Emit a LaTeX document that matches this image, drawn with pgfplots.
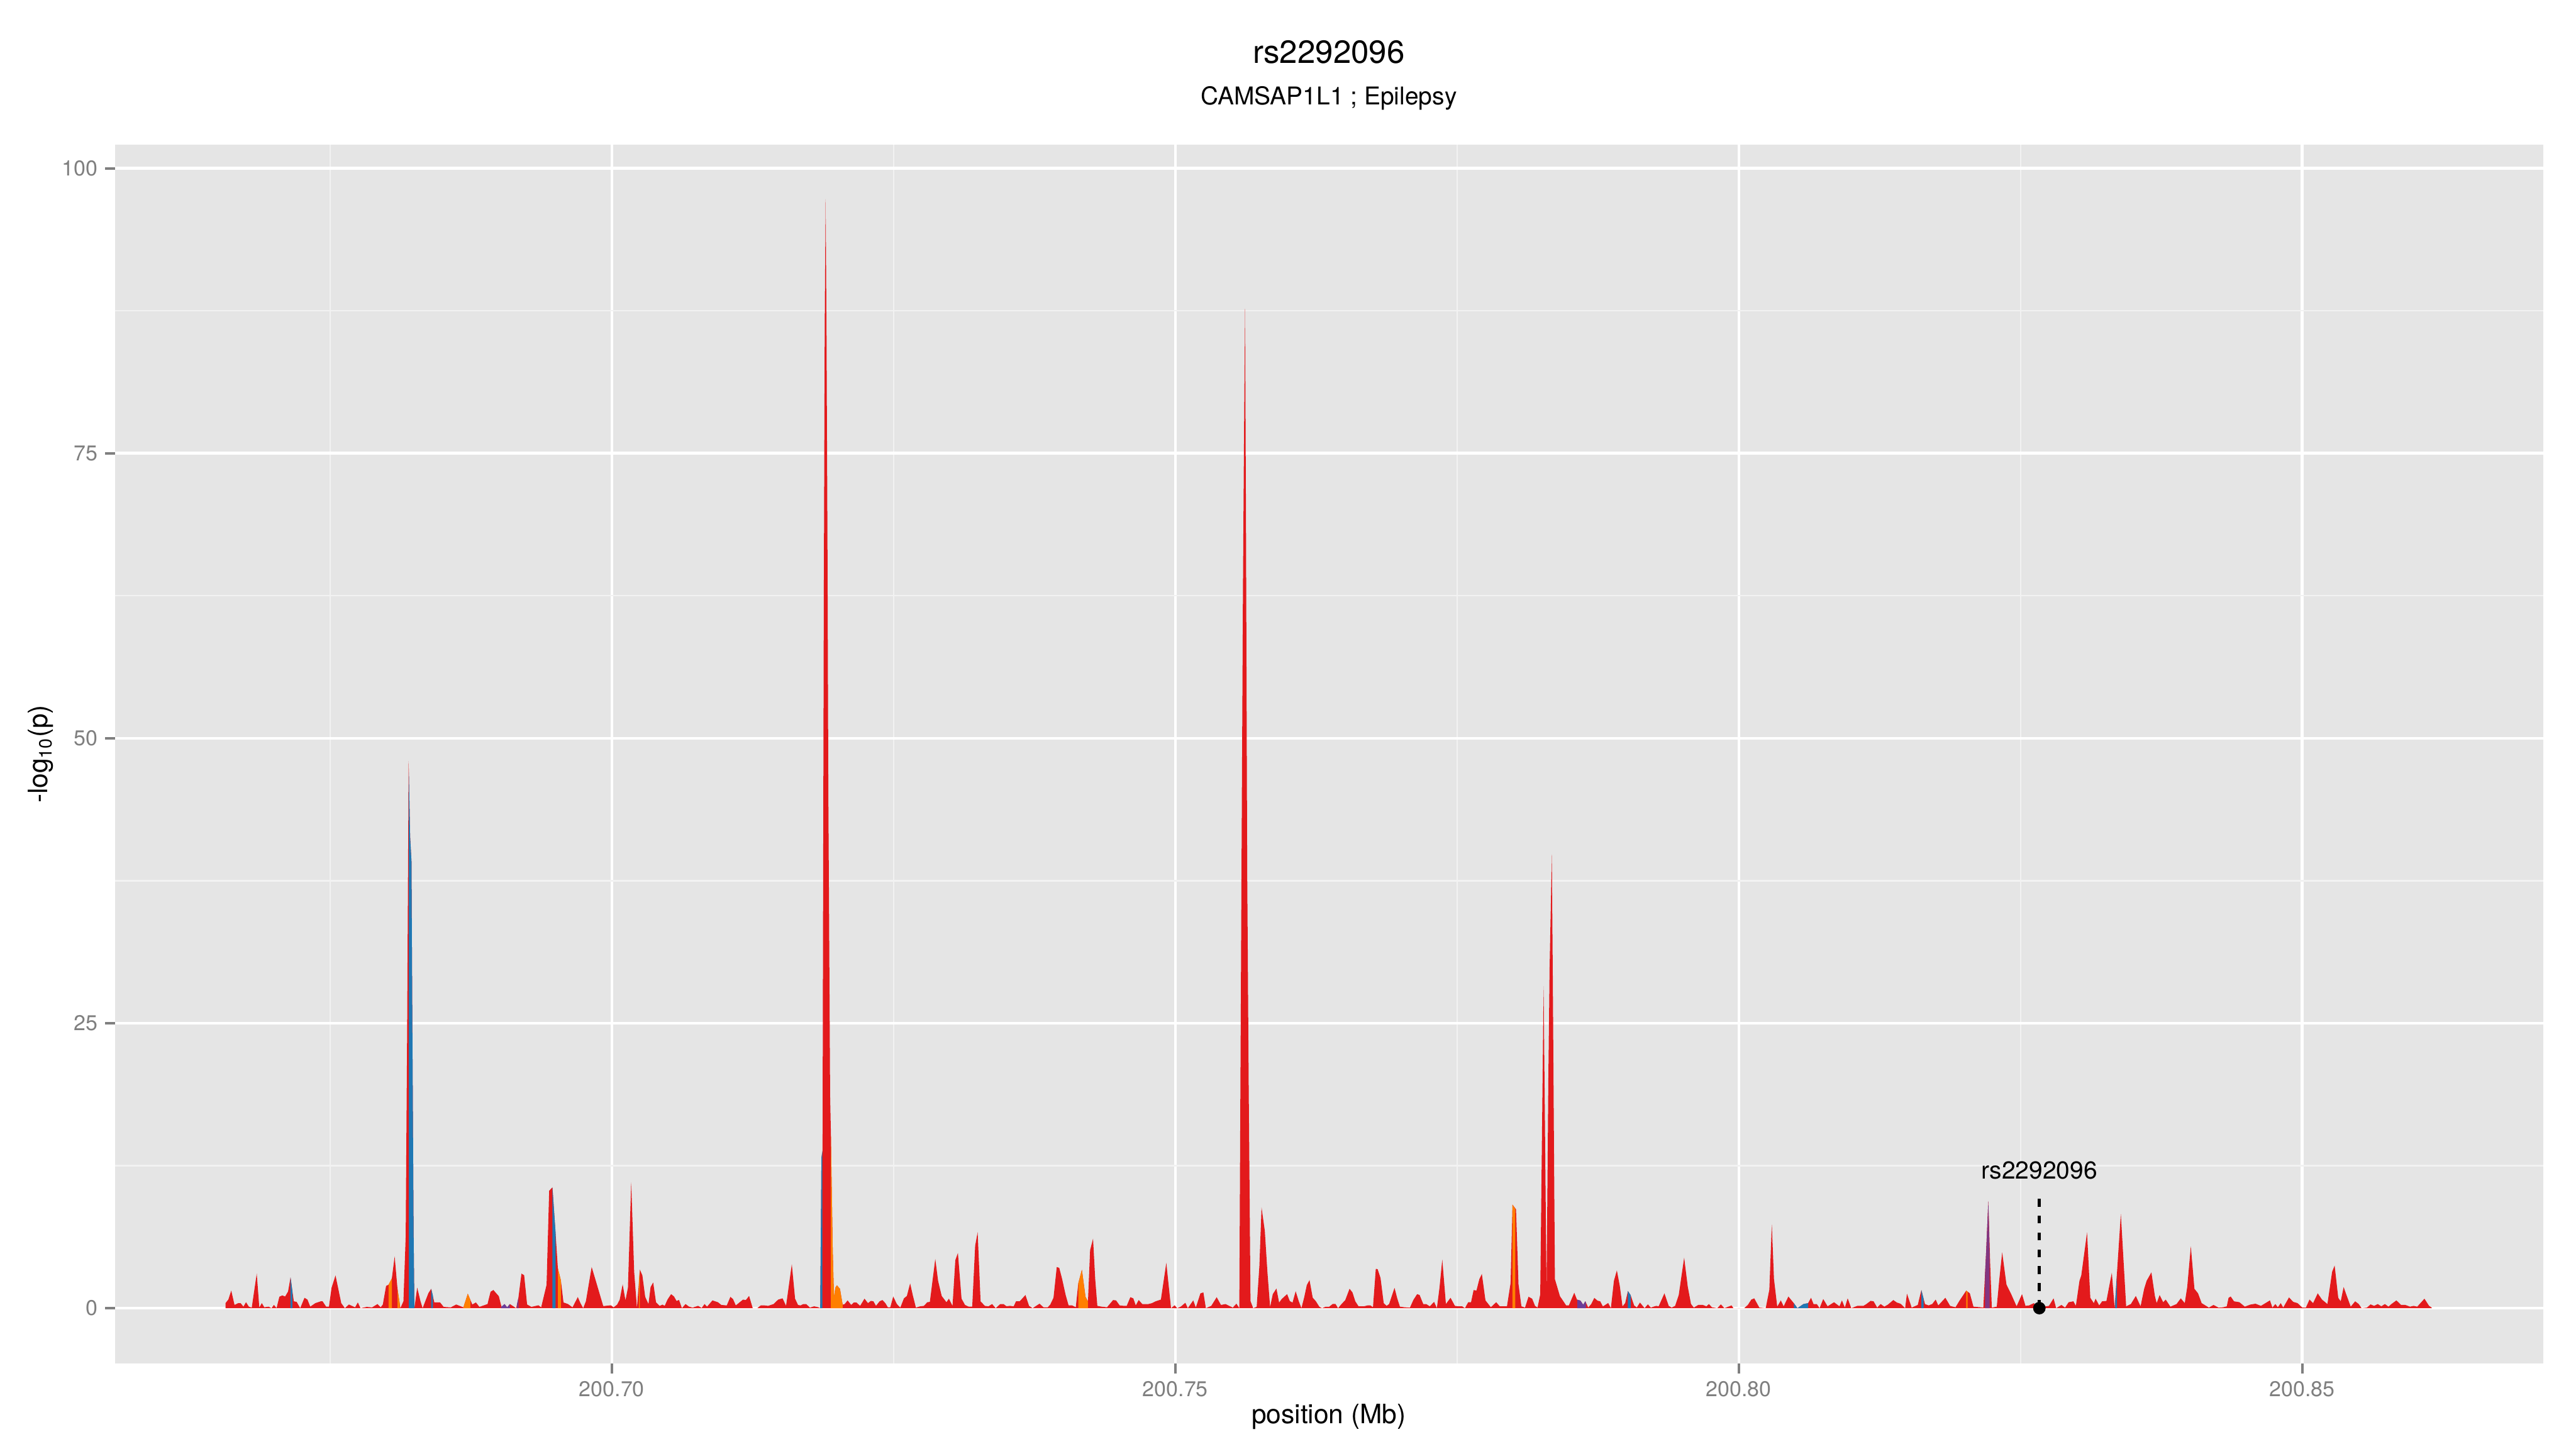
\documentclass[border=0pt]{standalone}
\usepackage{pgfplots}
\pgfplotsset{compat=1.18}
\usepackage{fontspec}
\setmainfont{TeX Gyre Heros}
\definecolor{lzred}{HTML}{E31A1C}
\definecolor{lzblue}{HTML}{1F78B4}
\definecolor{lzorange}{HTML}{FF7F00}
\definecolor{lzpurple}{HTML}{6A3D9A}
\definecolor{panelbg}{HTML}{E5E5E5}
\definecolor{gridminor}{HTML}{F2F2F2}
\definecolor{tickgray}{HTML}{7F7F7F}
\begin{document}
\begin{tikzpicture}
\path[use as bounding box] (0,0) rectangle (16in,9in);
\node[anchor=base, font=\fontsize{14.4}{16}\selectfont] at (8.2533in,8.6067in) {rs2292096};
\node[anchor=base, font=\fontsize{11}{13}\selectfont] at (8.2533in,8.35in) {CAMSAP1L1 ; Epilepsy};
\node[anchor=base, font=\fontsize{12}{14}\selectfont] at (8.2533in,0.16in) {position (Mb)};
\node[anchor=base, rotate=90, font=\fontsize{12}{14}\selectfont] at (0.2967in,4.3167in) {-log\textsubscript{10}(p)};
\begin{axis}[
  at={(0.71333in,0.53in)}, anchor=south west,
  scale only axis, width=15.0833in, height=7.5733in,
  xmin=200.6559, xmax=200.87138, ymin=-4.87, ymax=102.1,
  axis background/.style={fill=panelbg},
  axis line style={draw=none},
  tick pos=left, tick align=outside,
  major tick length=4.3pt, minor tick length=0pt,
  tick style={color=tickgray, line width=1.1pt},
  xtick={200.70,200.75,200.80,200.85}, xticklabels={200.70,200.75,200.80,200.85},
  ytick={0,25,50,75,100}, yticklabels={0,25,50,75,100},
  minor xtick={200.675,200.725,200.775,200.825},
  minor ytick={12.5,37.5,62.5,87.5},
  grid=both,
  major grid style={white, line width=1.3pt},
  minor grid style={gridminor, line width=0.65pt},
  ticklabel style={font=\fontsize{9.6}{11}\selectfont, color=tickgray},
]
\addplot[draw=none, fill=lzred] table {
x y
200.66572 0.44
200.66597 0.75
200.66623 1.54
200.66652 0.28
200.66684 0.44
200.66706 0.44
200.66731 0.13
200.66754 0.52
200.66779 0.13
200.66805 0.05
200.66849 3.03
200.66872 0.05
200.66894 0.44
200.66916 0.08
200.66955 0.13
200.66980 0
200.67002 0.28
200.67025 0
200.67050 1.0
200.67076 1.12
200.67101 1.02
200.67127 1.46
200.67149 2.70
200.67178 0.60
200.67203 0.55
200.67235 0
200.67273 0.91
200.67299 0.75
200.67324 0.13
200.67369 0.44
200.67417 0.60
200.67433 0.60
200.67465 0.13
200.67490 0.13
200.67513 1.78
200.67548 2.87
200.67599 0.44
200.67631 0
200.67667 0.32
200.67698 0.18
200.67722 0.07
200.67746 0.50
200.67770 0
200.67825 0.11
200.67873 0.07
200.67921 0.36
200.67949 0.07
200.67968 0.32
200.67997 1.95
200.68019 2.06
200.68048 2.60
200.68073 4.54
200.68098 1.69
200.68124 0
200.68151 0.61
200.68171 6.31
200.68184 24.8
200.68197 48.0
200.68210 41.4
200.68222 39.2
200.68230 24.8
200.68241 6.71
200.68248 0
200.68273 1.80
200.68302 0.61
200.68321 0
200.68373 1.33
200.68397 1.69
200.68425 0.50
200.68476 0.50
200.68508 0.11
200.68571 0.07
200.68619 0.32
200.68683 0.07
200.68722 1.26
200.68762 0.32
200.68794 0.50
200.68825 0.11
200.68897 0.36
200.68924 1.44
200.68949 1.59
200.68997 1.05
200.69024 0
200.69048 0.36
200.69071 0.07
200.69095 0.36
200.69151 0
200.69171 0.90
200.69198 3.03
200.69222 2.89
200.69248 0.32
200.69286 0.11
200.69349 0.25
200.69373 0.07
200.69421 2.05
200.69444 10.3
200.69473 10.6
200.69500 6.71
200.69521 3.50
200.69548 2.42
200.69571 0.50
200.69611 0.36
200.69651 0.07
200.69698 0.97
200.69722 0.43
200.69746 0
200.69770 0.61
200.69821 3.61
200.69857 2.42
200.69897 1.08
200.69924 0.18
200.69992 0.25
200.70016 0.07
200.70048 0.32
200.70070 0.75
200.70096 2.09
200.70121 0.68
200.70143 1.79
200.70172 11.04
200.70198 3.19
200.70223 0
200.70249 3.38
200.70271 2.87
200.70296 0.99
200.70325 0.36
200.70344 1.85
200.70367 2.25
200.70392 0.52
200.70424 0.20
200.70450 0.31
200.70469 0.20
200.70494 0.75
200.70526 1.23
200.70552 1.02
200.70574 0.63
200.70596 0.72
200.70622 0
200.70654 0.36
200.70685 0.13
200.70717 0.05
200.70765 0.20
200.70797 0.02
200.70823 0.36
200.70845 0.13
200.70893 0.68
200.70941 0.52
200.70972 0.28
200.71020 0.24
200.71052 0.99
200.71075 0.80
200.71100 0.24
200.71164 0.75
200.71189 0.71
200.71218 1.07
200.71250 0
200.71291 0
200.71323 0.25
200.71355 0.24
200.71387 0.20
200.71435 0.36
200.71476 0.75
200.71515 0.86
200.71546 0.20
200.71597 3.86
200.71626 0.83
200.71652 0.28
200.71674 0.24
200.71699 0.36
200.71725 0.36
200.71757 0.05
200.71795 0.16
200.71833 0.08
200.71849 0
200.71860 13.2
200.71870 13.8
200.71873 28.7
200.71881 62.5
200.71889 86.2
200.71897 97.3
200.71905 85.5
200.71913 68.0
200.71921 45.6
200.71937 18.6
200.71944 15.2
200.71960 5.05
200.71971 1.0
200.71984 1.8
200.71997 2.0
200.72024 1.7
200.72048 0.3
200.72066 0.36
200.72092 0.68
200.72124 0.28
200.72146 0.49
200.72171 0.49
200.72203 0.20
200.72242 0.83
200.72273 0.44
200.72299 0.64
200.72321 0.60
200.72344 0.20
200.72376 0.60
200.72401 0.71
200.72427 0.44
200.72449 0.08
200.72471 0.08
200.72497 1.02
200.72529 0.36
200.72560 0.05
200.72592 0.86
200.72618 1.07
200.72647 2.17
200.72672 1.07
200.72698 0.05
200.72736 0.16
200.72768 0.20
200.72800 0.52
200.72822 0.55
200.72870 4.32
200.72895 2.39
200.72927 1.07
200.72969 0.52
200.72991 0.83
200.73023 0.20
200.73048 4.21
200.73071 4.84
200.73103 0.83
200.73134 0.28
200.73166 0.13
200.73198 0.13
200.73224 5.48
200.73246 6.66
200.73272 0.60
200.73310 0.20
200.73342 0.16
200.73374 0.36
200.73406 0
200.73447 0.36
200.73476 0.36
200.73501 0.17
200.73533 0.20
200.73565 0.16
200.73587 0.60
200.73619 0.60
200.73670 1.15
200.73702 0.20
200.73734 0
200.73795 0.39
200.73830 0.08
200.73868 0.08
200.73890 0.31
200.73919 0.91
200.73948 3.61
200.73970 3.53
200.73995 2.58
200.74027 1.15
200.74053 0.24
200.74085 0.24
200.74117 0.08
200.74139 2.17
200.74171 3.36
200.74203 0.99
200.74225 0.60
200.74244 5.09
200.74270 6.09
200.74289 2.58
200.74308 0.20
200.74346 0.13
200.74394 0.08
200.74448 0.71
200.74474 0.68
200.74506 0.24
200.74544 0.20
200.74569 0.20
200.74601 0.96
200.74627 0.86
200.74649 0.24
200.74675 0.71
200.74707 0.36
200.74761 0.36
200.74793 0.44
200.74825 0.60
200.74872 0.75
200.74920 3.97
200.74962 0
200.74994 0.25
200.75016 0
200.75048 0.13
200.75089 0.47
200.75111 0
200.75159 0.68
200.75182 0.05
200.75223 1.30
200.75249 1.38
200.75271 0
200.75319 0.20
200.75367 0.96
200.75405 0.28
200.75446 0.36
200.75478 0.20
200.75510 0.05
200.75542 0.39
200.75568 0
200.75584 32.0
200.75600 62.8
200.75611 78.3
200.75619 87.7
200.75627 69.0
200.75638 38.2
200.75651 19.7
200.75667 0.62
200.75691 0
200.75722 0.12
200.75746 3.70
200.75765 8.84
200.75794 6.78
200.75817 3.2
200.75841 0.1
200.75865 1.23
200.75897 1.72
200.75921 0.49
200.75944 0.80
200.75992 1.23
200.76016 0.62
200.76040 0.49
200.76068 1.48
200.76095 0.62
200.76119 0
200.76143 0.92
200.76167 2.03
200.76191 2.46
200.76219 0.92
200.76246 0.62
200.76278 0.12
200.76302 0
200.76333 0.12
200.76365 0.12
200.76397 0.37
200.76421 0.37
200.76444 0
200.76476 0.37
200.76508 0.71
200.76546 1.70
200.76572 1.38
200.76597 0.60
200.76626 0.16
200.76674 0.16
200.76706 0.24
200.76731 0.24
200.76754 0.08
200.76779 3.45
200.76795 3.42
200.76821 2.64
200.76849 0.44
200.76875 0.20
200.76897 0.36
200.76945 1.78
200.76970 0.83
200.76993 0.13
200.77034 0.08
200.77082 0.05
200.77114 0.75
200.77146 1.23
200.77168 1.15
200.77200 0.36
200.77226 0.36
200.77258 0.16
200.77296 0.55
200.77321 0
200.77344 1.78
200.77369 4.27
200.77401 0.36
200.77442 0.91
200.77481 0.20
200.77513 0.16
200.77545 0.16
200.77570 0
200.77599 0.52
200.77624 0.52
200.77647 1.59
200.77672 1.54
200.77698 2.55
200.77720 3.00
200.77752 0.68
200.77800 0.08
200.77847 0.52
200.77879 0.16
200.77943 0.16
200.77975 2.20
200.77992 9.08
200.78023 8.67
200.78045 2.10
200.78071 0.16
200.78103 0.05
200.78134 1.0
200.78166 0.83
200.78192 0.20
200.78214 0.05
200.78238 1.20
200.78268 28.25
200.78294 1.50
200.78310 20.0
200.78321 29.8
200.78341 39.8
200.78352 25.5
200.78368 2.55
200.78413 1.05
200.78468 0.24
200.78492 0.24
200.78540 1.35
200.78564 0.75
200.78595 0.66
200.78619 0.30
200.78638 0.60
200.78664 0.06
200.78691 0.36
200.78718 0.90
200.78746 0.66
200.78770 0.60
200.78794 0.15
200.78841 0.45
200.78865 0
200.78892 2.40
200.78918 3.31
200.78944 1.95
200.78968 0.15
200.78992 0.45
200.79016 1.50
200.79040 1.14
200.79071 0.24
200.79095 0.06
200.79123 0.49
200.79164 0
200.79193 0.33
200.79219 0.05
200.79266 0.20
200.79289 0.16
200.79340 1.30
200.79378 0.20
200.79404 0.05
200.79435 0.20
200.79467 1.15
200.79515 4.43
200.79547 1.89
200.79576 0.36
200.79601 0.05
200.79640 0.28
200.79681 0.28
200.79713 0.16
200.79735 0.36
200.79761 0.08
200.79809 0
200.79841 0.33
200.79872 0
200.79936 0.24
200.79952 0
200.80048 0
200.80080 0.28
200.80111 0.75
200.80137 0.86
200.80182 0.05
200.80239 0
200.80271 1.62
200.80293 7.35
200.80312 2.56
200.80341 0.13
200.80373 0.68
200.80398 0.16
200.80440 1.02
200.80488 0.44
200.80520 0
200.80574 0.36
200.80615 0.44
200.80641 0.91
200.80663 0.36
200.80692 0.36
200.80717 0
200.80749 0.80
200.80788 0.16
200.80845 0.52
200.80893 0.16
200.80915 0.68
200.80941 0.05
200.80966 0.86
200.80998 0
200.81052 0.20
200.81106 0.20
200.81132 0.36
200.81170 0.64
200.81196 0.60
200.81228 0.05
200.81259 0.36
200.81291 0.13
200.81323 0.31
200.81371 0.71
200.81403 0.49
200.81435 0.39
200.81476 0
200.81492 1.27
200.81534 0.05
200.81588 0.28
200.81620 1.59
200.81652 0.36
200.81684 0.24
200.81716 0.36
200.81747 0.75
200.81770 0.24
200.81833 0.91
200.81875 0.20
200.81900 0.13
200.81923 0.08
200.81955 0.60
200.82018 1.54
200.82050 1.30
200.82082 0.13
200.82146 0.08
200.82170 0.05
200.82195 5.0
200.82214 9.39
200.82230 4.0
200.82245 0.05
200.82289 0.13
200.82312 2.56
200.82337 4.90
200.82375 2.07
200.82417 1.23
200.82465 0.16
200.82513 1.23
200.82544 0.20
200.82576 0.24
200.82618 0.44
200.82656 0
200.82704 0.13
200.82752 0.20
200.82793 0.86
200.82816 0
200.82863 0.28
200.82895 0.05
200.82927 0.52
200.82969 0.60
200.82991 0.20
200.83023 2.40
200.83039 2.87
200.83090 6.64
200.83119 0.91
200.83150 0.44
200.83166 0.83
200.83198 0.24
200.83224 0.60
200.83262 0.63
200.83310 3.11
200.83335 0
200.83390 8.26
200.83437 0.16
200.83479 0.36
200.83523 1.07
200.83565 0.16
200.83597 1.70
200.83619 2.40
200.83661 3.14
200.83692 1.07
200.83708 0.44
200.83734 1.15
200.83766 0.52
200.83788 0.75
200.83830 0.13
200.83884 0.36
200.83922 0.86
200.83957 0.44
200.83979 1.85
200.84011 5.42
200.84043 1.70
200.84075 1.30
200.84107 0.44
200.84171 0.05
200.84212 0.28
200.84257 0.05
200.84298 0.08
200.84330 0.16
200.84346 0.91
200.84365 1.02
200.84394 0.60
200.84442 0.52
200.84490 0.13
200.84538 0.31
200.84585 0.39
200.84633 0.20
200.84713 0.68
200.84735 0.05
200.84761 0.36
200.84783 0.08
200.84809 0.44
200.84831 0.05
200.84882 0.94
200.84920 0.55
200.84958 0.44
200.85000 0.05
200.85032 0.05
200.85064 0.75
200.85096 0.44
200.85137 1.30
200.85175 0.75
200.85223 0.36
200.85265 3.20
200.85287 3.74
200.85319 0.91
200.85341 0.60
200.85367 1.85
200.85392 1.15
200.85430 0.13
200.85469 0.60
200.85501 0.36
200.85526 0
200.85574 0.05
200.85606 0.33
200.85638 0.20
200.85670 0.36
200.85701 0.16
200.85733 0.36
200.85765 0.13
200.85791 0.36
200.85835 0.68
200.85877 0.28
200.85915 0.28
200.85956 0.13
200.85988 0.20
200.86020 0.13
200.86084 0.83
200.86125 0.20
200.86148 0.05
} \closedcycle;
% blue segments
\addplot[draw=none, fill=lzblue] table {
x y
200.68199 47.0
200.68210 41.4
200.68222 39.2
200.68230 24.8
200.68241 6.71
200.68248 0
} \closedcycle;
\addplot[draw=none, fill=lzblue] table {
x y
200.71849 0
200.71860 13.2
200.71868 13.8
} \closedcycle;
\addplot[draw=none, fill=lzblue] table {
x y
200.69473 10.6
200.69500 6.71
} \closedcycle;
\addplot[draw=none, fill=lzblue] table {
x y
200.68397 1.69
200.68412 1.1
} \closedcycle;
\addplot[draw=none, fill=lzblue] table {
x y
200.67149 2.70
200.67165 1.5
} \closedcycle;
\addplot[draw=none, fill=lzblue] table {
x y
200.79016 1.50
200.79040 1.14
} \closedcycle;
\addplot[draw=none, fill=lzblue] table {
x y
200.80488 0.44
200.80520 0
200.80574 0.36
200.80615 0.44
} \closedcycle;
\addplot[draw=none, fill=lzblue] table {
x y
200.81620 1.59
200.81640 0.8
} \closedcycle;
\addplot[draw=none, fill=lzblue] table {
x y
200.83340 0.5
200.83356 3.0
} \closedcycle;
% orange segments
\addplot[draw=none, fill=lzorange] table {
x y
200.71944 15.2
200.71960 5.05
200.71971 1.0
200.71984 1.8
200.71997 2.0
200.72024 1.7
200.72048 0.3
} \closedcycle;
\addplot[draw=none, fill=lzorange] table {
x y
200.69521 3.50
200.69548 2.42
} \closedcycle;
\addplot[draw=none, fill=lzorange] table {
x y
200.68019 2.06
200.68048 2.60
} \closedcycle;
\addplot[draw=none, fill=lzorange] table {
x y
200.68098 1.69
200.68118 0.4
} \closedcycle;
\addplot[draw=none, fill=lzorange] table {
x y
200.68683 0.07
200.68722 1.26
200.68745 0.7
} \closedcycle;
\addplot[draw=none, fill=lzorange] table {
x y
200.70240 2.4
200.70249 3.38
} \closedcycle;
\addplot[draw=none, fill=lzorange] table {
x y
200.74139 2.17
200.74171 3.36
200.74203 0.99
200.74225 0.60
} \closedcycle;
\addplot[draw=none, fill=lzorange] table {
x y
200.77992 9.08
200.78016 8.70
} \closedcycle;
\addplot[draw=none, fill=lzorange] table {
x y
200.82018 1.54
200.82030 1.45
} \closedcycle;
% purple segments
\addplot[draw=none, fill=lzpurple] table {
x y
200.69016 0.1
200.69048 0.36
200.69071 0.07
200.69095 0.36
} \closedcycle;
\addplot[draw=none, fill=lzpurple] table {
x y
200.69160 0.4
200.69171 0.90
} \closedcycle;
\addplot[draw=none, fill=lzpurple] table {
x y
200.78568 0.74
200.78595 0.66
200.78619 0.30
200.78638 0.60
200.78643 0.5
} \closedcycle;
\addplot[draw=none, fill=lzpurple!80!lzred] table {
x y
200.82185 3.0
200.82195 5.0
200.82214 9.39
200.82225 5.0
} \closedcycle;
% annotation
\addplot[black, line width=1.3pt, dash pattern=on 3.6pt off 4pt] coordinates {(200.82667,0) (200.82667,9.7)};
\addplot[only marks, mark=*, mark size=2.6pt, black] coordinates {(200.82667,0)};
\node[anchor=base, font=\fontsize{11}{13}\selectfont] at (axis cs:200.82667,11.33) {rs2292096};
\end{axis}
\end{tikzpicture}
\end{document}
